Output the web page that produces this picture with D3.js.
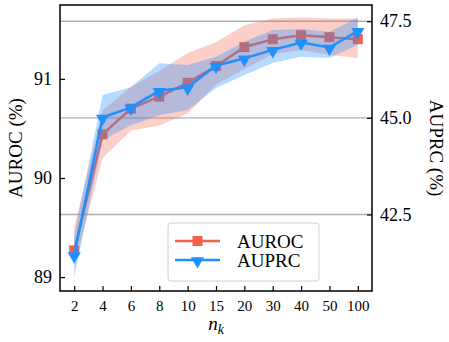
<!DOCTYPE html>
<html>
<head>
<meta charset="utf-8">
<script src="https://cdn.jsdelivr.net/npm/d3@7"></script>
<style>
  body { margin: 0; background: #fff; }
  text { font-family: "Liberation Serif", "Times New Roman", serif; fill: #000; }
</style>
</head>
<body>
<script>
var w = 449;
var h = 342;

// data
var nk = ["2", "4", "6", "8", "10", "15", "20", "30", "40", "50", "100"];
var auroc = [89.27, 90.44, 90.70, 90.82, 90.96, 91.13, 91.32, 91.40, 91.44, 91.42, 91.40];
var aurocLo = [89.10, 90.20, 90.48, 90.53, 90.65, 90.94, 91.10, 91.25, 91.29, 91.24, 91.21];
var aurocHi = [89.50, 90.68, 90.92, 91.08, 91.26, 91.37, 91.54, 91.61, 91.62, 91.61, 91.61];
var auprc = [41.45, 45.01, 45.27, 45.70, 45.79, 46.35, 46.54, 46.76, 46.95, 46.82, 47.25];
var auprcLo = [40.87, 44.43, 44.81, 45.07, 45.20, 45.77, 46.11, 46.42, 46.58, 46.55, 46.89];
var auprcHi = [41.95, 45.59, 45.79, 46.41, 46.37, 46.58, 46.97, 47.27, 47.30, 47.23, 47.59];
var leftTicks = [89, 90, 91];
var rightTicks = [42.5, 45.0, 47.5];

var m = {left: 60, right: 77, top: 5, bottom: 51};
var iw = w - m.left - m.right;
var ih = h - m.top - m.bottom;

var redC = "#f4604b";
var blueC = "#1e90ff";

var svg = d3.select("body")
        .append("svg")
        .attr("width", w)
        .attr("height", h);

var g = svg.append("g")
        .attr("transform", "translate(" + m.left + "," + m.top + ")");

var x = d3.scalePoint()
        .domain(nk)
        .range([0, iw])
        .padding(0.5);

var yL = d3.scaleLinear()
        .domain([88.86, 91.745])
        .range([ih, 0]);

var yR = d3.scaleLinear()
        .domain([40.52, 47.92])
        .range([ih, 0]);

// grid lines on right axis ticks
g.selectAll(".grid")
        .data(rightTicks)
        .enter()
        .append("line")
        .attr("x1", 0)
        .attr("x2", iw)
        .attr("y1", function (d) { return yR(d); })
        .attr("y2", function (d) { return yR(d); })
        .style("stroke", "#b0b0b0")
        .style("stroke-width", 1.3);

function band(ys, lo, hi) {
    return d3.area()
            .x(function (d, i) { return x(nk[i]); })
            .y0(function (d, i) { return ys(lo[i]); })
            .y1(function (d, i) { return ys(hi[i]); });
}
function line(ys) {
    return d3.line()
            .x(function (d, i) { return x(nk[i]); })
            .y(function (d) { return ys(d); });
}

// AUROC band, line, markers
g.append("path")
        .attr("d", band(yL, aurocLo, aurocHi)(nk))
        .style("fill", redC)
        .style("opacity", 0.3);
g.append("path")
        .attr("d", line(yL)(auroc))
        .style("fill", "none")
        .style("stroke", redC)
        .style("stroke-width", 2.5);
g.selectAll(".sq")
        .data(auroc)
        .enter()
        .append("rect")
        .attr("x", function (d, i) { return x(nk[i]) - 5; })
        .attr("y", function (d) { return yL(d) - 5; })
        .attr("width", 10)
        .attr("height", 10)
        .style("fill", redC);

// AUPRC band, line, markers
g.append("path")
        .attr("d", band(yR, auprcLo, auprcHi)(nk))
        .style("fill", blueC)
        .style("opacity", 0.32);
g.append("path")
        .attr("d", line(yR)(auprc))
        .style("fill", "none")
        .style("stroke", blueC)
        .style("stroke-width", 2.5);

var tri = d3.symbol().type(d3.symbolTriangle).size(75);
g.selectAll(".tri")
        .data(auprc)
        .enter()
        .append("path")
        .attr("d", tri)
        .attr("transform", function (d, i) {
            return "translate(" + x(nk[i]) + "," + (yR(d) + 1) + ") rotate(180)";
        })
        .style("fill", blueC);

// axes
var xAxis = g.append("g")
        .attr("transform", "translate(0," + ih + ")")
        .call(d3.axisBottom(x).tickSizeInner(-5).tickSizeOuter(0).tickPadding(9));
var lAxis = g.append("g")
        .call(d3.axisLeft(yL).tickValues(leftTicks).tickFormat(d3.format("d"))
                .tickSizeInner(-5).tickSizeOuter(0).tickPadding(8));
var rAxis = g.append("g")
        .attr("transform", "translate(" + iw + ",0)")
        .call(d3.axisRight(yR).tickValues(rightTicks).tickFormat(d3.format(".1f"))
                .tickSizeInner(-5).tickSizeOuter(0).tickPadding(8));

[xAxis, lAxis, rAxis].forEach(function (a) {
    a.attr("font-family", null);
    a.select(".domain").remove();
    a.selectAll("line").style("stroke", "#000").style("stroke-width", 1.2);
    a.selectAll("text").style("font-family", "'Liberation Serif', serif");
});
xAxis.selectAll("text").style("font-size", "15px");
lAxis.selectAll("text").style("font-size", "18px");
rAxis.selectAll("text").style("font-size", "18px");

// frame
g.append("rect")
        .attr("width", iw)
        .attr("height", ih)
        .style("fill", "none")
        .style("stroke", "#000")
        .style("stroke-width", 1.5);

// axis labels
svg.append("text")
        .attr("transform", "translate(22," + (m.top + ih / 2) + ") rotate(-90)")
        .attr("text-anchor", "middle")
        .style("font-size", "19px")
        .text("AUROC (%)");
svg.append("text")
        .attr("transform", "translate(430," + (m.top + ih / 2) + ") rotate(90)")
        .attr("text-anchor", "middle")
        .style("font-size", "19px")
        .text("AUPRC (%)");
var xl = svg.append("text")
        .attr("x", m.left + iw / 2)
        .attr("y", 330)
        .attr("text-anchor", "middle")
        .style("font-size", "19px")
        .style("font-style", "italic");
xl.append("tspan").text("n");
xl.append("tspan").attr("dy", 4).style("font-size", "14px").text("k");

// legend
var lg = svg.append("g").attr("transform", "translate(168,223)");
lg.append("rect")
        .attr("width", 151)
        .attr("height", 58)
        .attr("rx", 3)
        .style("fill", "#fff")
        .style("fill-opacity", 0.85)
        .style("stroke", "#d0d0d0")
        .style("stroke-width", 1);
var items = [
    {name: "AUROC", color: redC, sym: "sq"},
    {name: "AUPRC", color: blueC, sym: "tri"}
];
items.forEach(function (it, i) {
    var yy = 18 + i * 19;
    lg.append("line")
            .attr("x1", 7).attr("x2", 52)
            .attr("y1", yy).attr("y2", yy)
            .style("stroke", it.color)
            .style("stroke-width", 2.5);
    if (it.sym === "sq") {
        lg.append("rect")
                .attr("x", 24.5).attr("y", yy - 5)
                .attr("width", 10).attr("height", 10)
                .style("fill", it.color);
    } else {
        lg.append("path")
                .attr("d", tri)
                .attr("transform", "translate(29.5," + (yy + 1) + ") rotate(180)")
                .style("fill", it.color);
    }
    lg.append("text")
            .attr("x", 69)
            .attr("y", yy + 6.5)
            .style("font-size", "19px")
            .text(it.name);
});
</script>
</body>
</html>
